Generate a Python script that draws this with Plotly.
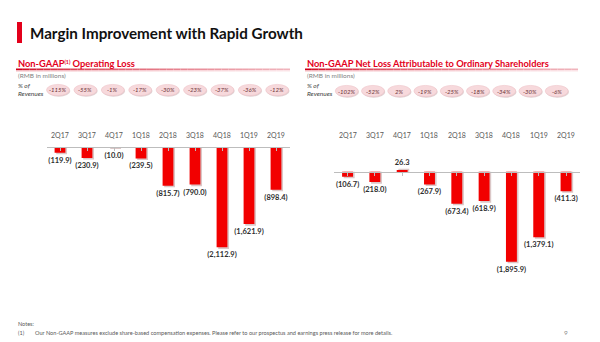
import plotly.graph_objects as go

# ---- data -------------------------------------------------------------
quarters = ["2Q17", "3Q17", "4Q17", "1Q18", "2Q18", "3Q18", "4Q18", "1Q19", "2Q19"]

op_loss = [-119.9, -230.9, -10.0, -239.5, -815.7, -790.0, -2112.9, -1621.9, -898.4]
op_loss_pct = ["-115%", "-55%", "-1%", "-17%", "-30%", "-23%", "-37%", "-36%", "-12%"]

net_loss = [-106.7, -218.0, 26.3, -267.9, -673.4, -618.9, -1895.9, -1379.1, -411.3]
net_loss_pct = ["-102%", "-52%", "2%", "-19%", "-25%", "-18%", "-34%", "-30%", "-6%"]

title_text = "Margin Improvement with Rapid Growth"
left_header = "Non-GAAP<span style='font-size:7.5px'><sup>(1)</sup></span> Operating Loss"
right_header = "Non-GAAP Net Loss Attributable to Ordinary Shareholders"
unit_text = "(RMB in millions)"
note_lines = [
    "Notes:",
    "Our Non-GAAP measures exclude share-based compensation expenses. "
    "Please refer to our prospectus and earnings press release for more details.",
]
page_no = "9"

# ---- layout helpers ---------------------------------------------------
W, H = 600, 342
FONT = "Lato"
RED = "#E3001B"
BAR_RED = "#F20000"
PPU = 0.0475  # pixels per RMB million


def px(x):
    return x / W


def py(y):
    return 1 - y / H


def fmt(v):
    s = f"{abs(v):,.1f}"
    return f"({s})" if v < 0 else s


def gradient(c0, c1, t):
    return "rgb({},{},{})".format(*[round(a + (b - a) * t) for a, b in zip(c0, c1)])


panels = [
    dict(vals=op_loss, pct=op_loss_pct, xa="x", ya="y", x0=46.5, x1=289.5, zero=147.0,
         top=141.0, pill0=58.0, pstep=27.4, pill_y=90.0, hx=16, hend=290, header=left_header),
    dict(vals=net_loss, pct=net_loss_pct, xa="x2", ya="y2", x0=333.9, x1=579.7, zero=171.7,
         top=160.0, pill0=346.7, pstep=26.25, pill_y=91.0, hx=305, hend=578, header=right_header),
]
BOTTOM = 300.0

fig = go.Figure()
shapes = []
annotations = []
layout_axes = {}

for k, p in enumerate(panels):
    vals = p["vals"]
    idx = list(range(len(quarters)))
    shadow_shift = 1.6 / PPU
    # soft drop shadow behind each bar
    fig.add_trace(go.Bar(
        x=idx, y=[v + (shadow_shift if v > 0 else -shadow_shift) for v in vals],
        xaxis=p["xa"], yaxis=p["ya"], width=0.4, offset=-0.2 + 0.06,
        marker=dict(color="rgba(90,0,0,0.22)", line=dict(width=0)),
        hoverinfo="skip", showlegend=False,
    ))
    fig.add_trace(go.Bar(
        x=idx, y=vals, xaxis=p["xa"], yaxis=p["ya"], width=0.4, offset=-0.2,
        marker=dict(color=BAR_RED, line=dict(width=0)),
        text=[f"<b>{fmt(v)}</b>" for v in vals], textposition="outside",
        constraintext="none", cliponaxis=False,
        textfont=dict(family=FONT, size=7.5, color="#2E2E2E"),
        showlegend=False,
    ))

    suffix = "" if k == 0 else "2"
    rtop = (p["zero"] - p["top"]) / PPU
    rbot = -(BOTTOM - p["zero"]) / PPU
    layout_axes["xaxis" + suffix] = dict(
        domain=[px(p["x0"]), px(p["x1"])], range=[-0.5, len(quarters) - 0.5],
        anchor="free", position=py(p["zero"]), showline=True, linecolor="#BDBDBD",
        linewidth=1, ticks="outside", tickson="boundaries", ticklen=3,
        tickcolor="#BDBDBD", showticklabels=False, showgrid=False, zeroline=False,
        tickmode="array", tickvals=idx, fixedrange=True,
    )
    layout_axes["yaxis" + suffix] = dict(
        domain=[py(BOTTOM), py(p["top"])], range=[rbot, rtop], visible=False,
        anchor="x" + suffix if suffix else "x", fixedrange=True,
    )

    # quarter labels above the baseline
    for i, q in enumerate(quarters):
        annotations.append(dict(
            x=i, xref=p["xa"], y=py(135), yref="paper", text=q, showarrow=False,
            xanchor="center", yanchor="middle",
            font=dict(family=FONT, size=7, color="#595959"),
        ))

    # section header with gradient underline
    annotations.append(dict(
        x=px(p["hx"]), y=py(63), xref="paper", yref="paper", text=f"<b>{p['header']}</b>",
        showarrow=False, xanchor="left", yanchor="middle",
        font=dict(family=FONT, size=9.3, color=RED),
    ))
    nseg = 40
    span = p["hend"] - p["hx"]
    for s in range(nseg):
        t = s / (nseg - 1)
        xa_ = p["hx"] + span * s / nseg
        xb_ = p["hx"] + span * (s + 1) / nseg
        shapes.append(dict(
            type="line", xref="paper", yref="paper",
            x0=px(xa_), x1=px(xb_), y0=py(69.3), y1=py(69.3),
            line=dict(color=gradient((205, 0, 25), (240, 180, 188), t ** 0.6), width=1.6),
        ))
        shapes.append(dict(
            type="line", xref="paper", yref="paper",
            x0=px(xa_), x1=px(xb_), y0=py(70.8), y1=py(70.8),
            line=dict(color=gradient((240, 170, 178), (250, 222, 226), t), width=1.2),
        ))

    annotations.append(dict(
        x=px(p["hx"]), y=py(75), xref="paper", yref="paper", text=unit_text,
        showarrow=False, xanchor="left", yanchor="middle",
        font=dict(family=FONT, size=6.5, color="#7F7F7F"),
    ))
    annotations.append(dict(
        x=px(p["hx"]), y=py(89.5), xref="paper", yref="paper",
        text="<i>% of</i><br><i>Revenues</i>", showarrow=False, xanchor="left",
        yanchor="middle", align="left",
        font=dict(family=FONT, size=6.5, color="#404040"),
    ))

    # margin pills
    for i, label in enumerate(p["pct"]):
        cx = p["pill0"] + p["pstep"] * i
        cy = p["pill_y"]
        shapes.append(dict(
            type="circle", xref="paper", yref="paper",
            x0=px(cx - 11.5 + 0.8), x1=px(cx + 11.5 + 0.8),
            y0=py(cy + 5.8 + 0.9), y1=py(cy - 5.8 + 0.9),
            fillcolor="rgba(170,120,125,0.35)", line=dict(width=0),
        ))
        shapes.append(dict(
            type="circle", xref="paper", yref="paper",
            x0=px(cx - 11.5), x1=px(cx + 11.5), y0=py(cy + 5.6), y1=py(cy - 5.6),
            fillcolor="#F7D9DC", line=dict(color="#EFC3C8", width=0.6),
        ))
        annotations.append(dict(
            x=px(cx), y=py(cy), xref="paper", yref="paper", text=f"<i>{label}</i>",
            showarrow=False, xanchor="center", yanchor="middle",
            font=dict(family=FONT, size=6, color="#6B3236"),
        ))

# ---- title ------------------------------------------------------------
shapes.append(dict(
    type="rect", xref="paper", yref="paper", x0=px(17), x1=px(22), y0=py(43), y1=py(22),
    fillcolor="#E3001B", line=dict(width=0),
))
annotations.append(dict(
    x=px(27.5), y=py(33), xref="paper", yref="paper", text=f"<b>{title_text}</b>",
    showarrow=False, xanchor="left", yanchor="middle",
    font=dict(family=FONT, size=15.2, color="#111111"),
))

# ---- footnotes --------------------------------------------------------
annotations.append(dict(
    x=px(16), y=py(324), xref="paper", yref="paper", text=note_lines[0],
    showarrow=False, xanchor="left", yanchor="middle",
    font=dict(family=FONT, size=5.5, color="#595959"),
))
annotations.append(dict(
    x=px(16), y=py(332.5), xref="paper", yref="paper", text="(1)",
    showarrow=False, xanchor="left", yanchor="middle",
    font=dict(family=FONT, size=5.5, color="#595959"),
))
annotations.append(dict(
    x=px(33), y=py(332.5), xref="paper", yref="paper", text=note_lines[1],
    showarrow=False, xanchor="left", yanchor="middle",
    font=dict(family=FONT, size=5.6, color="#595959"),
))
annotations.append(dict(
    x=px(566), y=py(332.5), xref="paper", yref="paper", text=page_no,
    showarrow=False, xanchor="center", yanchor="middle",
    font=dict(family=FONT, size=6.5, color="#8C8C8C"),
))

fig.update_layout(
    width=W, height=H, margin=dict(l=0, r=0, t=0, b=0),
    paper_bgcolor="white", plot_bgcolor="rgba(0,0,0,0)",
    barmode="overlay", showlegend=False,
    shapes=shapes, annotations=annotations,
    font=dict(family=FONT),
    **layout_axes,
)

fig.write_html("out.html", config={"displayModeBar": False})
